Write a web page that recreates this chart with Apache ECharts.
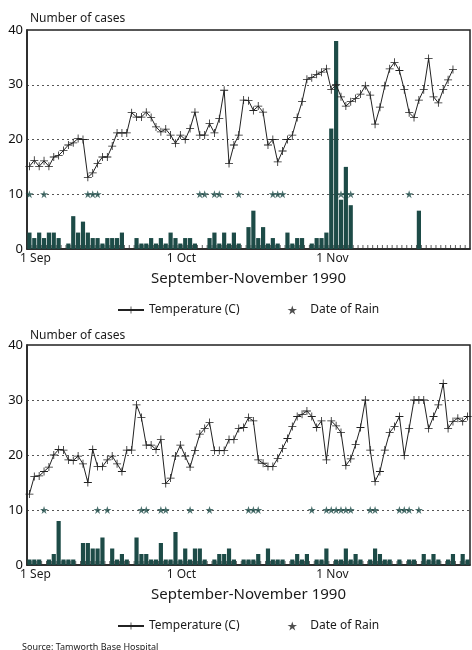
<!DOCTYPE html>
<html>
<head>
<meta charset="utf-8">
<script src="https://cdn.jsdelivr.net/npm/echarts@6/dist/echarts.min.js"></script>
<style>
  html, body { margin: 0; padding: 0; background: #fff; }
  #chart { width: 472px; height: 650px; }
</style>
</head>
<body>
<div id="chart"></div>
<script>
// days on the x axis: 1 Sep .. 30 Nov 1990
const monthNames = ['Sep', 'Oct', 'Nov']
const monthLengths = [30, 31, 30]
const yTicks = [0, 10, 20, 30, 40]

// top panel
const casesTop = [
  3, 2, 3, 2, 3, 3, 2, 0, 1, 6, 3, 5, 3, 2, 2, 1, 2, 2, 2, 3, 0, 0, 2, 1, 1, 2, 1, 2, 1, 3,
  2, 1, 2, 2, 1, 0, 0, 2, 3, 1, 3, 1, 3, 1, 0, 4, 7, 2, 4, 1, 2, 1, 0, 3, 1, 2, 2, 0, 1, 2, 2,
  3, 22, 38, 9, 15, 8, 0, 0, 0, 0, 0, 0, 0, 0, 0, 0, 0, 0, 0, 7, 0, 0, 0, 0, 0, 0, 0, 0, 0, 0
]
const tempTop = [
  15.1, 16.2, 15.1, 16.1, 15.1, 16.8, 17.1, 18, 19, 19.4, 20.2, 20,
  13.1, 13.9, 15.6, 16.8, 16.8, 18.8, 21.2, 21.2, 21.2,
  24.9, 24.1, 24.1, 25, 24, 22.3, 21.4, 21.9, 20.8,
  19.3, 20.8, 20, 22, 25, 20.8, 20.8, 22.9, 21.2, 23.8,
  29, 15.6, 19, 20.8, 27.2, 27.1, 25.3, 26.1, 25, 19,
  20, 15.9, 17.9, 20, 20.8, 24, 26.9, 31, 31.3, 31.9,
  32.3, 32.9, 29.1, 30, 27.8, 26.1, 26.9, 27.5, 28.3, 29.8,
  28.1, 22.8, 25.9, 29.8, 32.9, 34.1, 32.6, 29.1, 24.9, 24,
  27.2, 29.1, 34.8, 27.8, 26.7, 29.1, 30.9, 32.8, null, null, null
]
const rainTop = [0, 3, 12, 13, 14, 35, 36, 38, 39, 43, 50, 51, 52, 64, 65, 66, 78]

// bottom panel
const casesBottom = [
  1, 1, 1, 0, 1, 2, 8, 1, 1, 1, 0, 4, 4, 3, 3, 5, 0, 3, 1, 2, 1, 0, 5, 2, 2, 1, 1, 4, 1, 1,
  6, 1, 3, 1, 3, 3, 1, 0, 1, 2, 2, 3, 1, 0, 1, 1, 1, 2, 0, 3, 1, 1, 1, 0, 1, 2, 1, 2, 0, 1, 1,
  3, 0, 1, 1, 3, 1, 2, 1, 0, 1, 3, 2, 1, 1, 0, 1, 0, 1, 1, 0, 2, 1, 2, 1, 0, 1, 2, 0, 2, 1
]
const tempBottom = [
  12.9, 16.1, 16.2, 17, 17.8, 20, 21, 20.9, 19.1, 19,
  19.8, 18.4, 15, 21, 17.9, 17.9, 19.1, 19.8, 18.4, 17,
  20.9, 20.9, 29.1, 26.8, 21.8, 21.8, 21, 22.8, 14.8, 15.8,
  19.8, 21.8, 19.8, 17.8, 20.8, 23.8, 24.8, 25.9, 20.8, 20.8,
  20.8, 22.8, 22.8, 24.8, 25, 26.8, 26.2, 19.1, 18.5, 17.9,
  17.9, 19.4, 21.2, 23, 25.2, 27, 27.4, 28, 27, 25,
  26.2, 19.1, 26.2, 25.3, 24.1, 18.1, 19.3, 21.9, 25, 30,
  20.9, 15.2, 17, 20.9, 24.1, 25.2, 27, 19.9, 24.8, 30,
  30, 30, 24.8, 27, 29.1, 33, 24.8, 26.1, 26.7, 26.1, 27
]
const rainBottom = [3, 14, 16, 23, 24, 27, 28, 33, 37, 45, 46, 47, 58, 61, 62, 63, 64, 65, 66, 70, 71, 76, 77, 78, 80]
const rainLevel = 10

const days = []
monthNames.forEach(function (m, k) {
  for (let d = 1; d <= monthLengths[k]; d++) days.push(d + ' ' + m)
})

const font = 'Noto Sans'
const ink = '#1a1a1a'
const teal = '#1d4b47'
const plusPath = 'path://M9,0H11V9H20V11H11V20H9V11H0V9H9Z'
const starPath = 'path://M10,0L12.4,7.2L20,7.2L13.8,11.6L16.2,19L10,14.5L3.8,19L6.2,11.6L0,7.2L7.6,7.2Z'

function xAxisFor(gridIndex) {
  return {
    type: 'category',
    gridIndex: gridIndex,
    data: days,
    boundaryGap: true,
    name: 'September-November 1990',
    nameLocation: 'middle',
    nameGap: 22,
    nameTextStyle: { fontFamily: font, fontSize: 15, color: ink },
    axisLine: { show: true, onZero: false, lineStyle: { color: '#222', width: 1.5 } },
    axisTick: { show: false },
    axisLabel: {
      interval: function (i, v) { return v.indexOf('1 ') === 0 },
      margin: 4,
      padding: [0, 0, 0, 12],
      fontFamily: font,
      fontSize: 12,
      color: ink
    },
    splitLine: { show: false }
  }
}

function yAxisFor(gridIndex) {
  return {
    type: 'value',
    gridIndex: gridIndex,
    min: yTicks[0],
    max: yTicks[yTicks.length - 1],
    interval: 10,
    axisLine: { show: true, lineStyle: { color: '#222', width: 1.5 } },
    axisTick: { show: false },
    axisLabel: { margin: 4, fontFamily: font, fontSize: 13, color: '#111' },
    splitLine: { show: true, lineStyle: { type: [2, 3], color: '#555', width: 1 } }
  }
}

function seriesFor(idx, cases, temp, rain) {
  return [
    {
      // little day marks standing on the base line
      name: 'day marks',
      type: 'scatter',
      xAxisIndex: idx,
      yAxisIndex: idx,
      data: days.map(function (d, i) { return [i, 0] }),
      symbol: 'rect',
      symbolSize: [1, 4],
      symbolOffset: [-2.4, -2],
      itemStyle: { color: '#333' },
      silent: true,
      z: 1
    },
    {
      name: 'Cases',
      type: 'bar',
      xAxisIndex: idx,
      yAxisIndex: idx,
      data: cases,
      barCategoryGap: '14%',
      itemStyle: { color: teal },
      z: 3
    },
    {
      name: 'Temperature (C)',
      type: 'line',
      xAxisIndex: idx,
      yAxisIndex: idx,
      data: temp,
      symbol: plusPath,
      symbolSize: 8,
      showAllSymbol: true,
      connectNulls: false,
      lineStyle: { color: '#222', width: 1 },
      itemStyle: { color: '#222' },
      z: 4
    },
    {
      name: 'Date of Rain',
      type: 'scatter',
      xAxisIndex: idx,
      yAxisIndex: idx,
      data: rain.map(function (d) { return [d, rainLevel] }),
      symbol: starPath,
      symbolSize: 8,
      itemStyle: { color: teal },
      z: 5
    }
  ]
}

function legendFor(top) {
  return {
    top: top,
    left: 112,
    itemGap: 48,
    itemWidth: 26,
    itemHeight: 9,
    data: [
      { name: 'Temperature (C)' },
      { name: 'Date of Rain', icon: starPath, itemStyle: { color: '#222' } }
    ],
    textStyle: { fontFamily: font, fontSize: 12, color: ink }
  }
}

const chart = echarts.init(document.getElementById('chart'), null, { renderer: 'canvas' })

chart.setOption({
  animation: false,
  backgroundColor: '#fff',
  title: [
    { text: 'Number of cases', left: 25, top: 8, textStyle: { fontFamily: font, fontSize: 12, fontWeight: 'normal', color: ink } },
    { text: 'Number of cases', left: 25, top: 325, textStyle: { fontFamily: font, fontSize: 12, fontWeight: 'normal', color: ink } },
    { text: 'Source: Tamworth Base Hospital', left: 17, top: 638, textStyle: { fontFamily: font, fontSize: 9, fontWeight: 'normal', color: ink } }
  ],
  legend: [legendFor(299), legendFor(615)],
  grid: [
    { left: 27, right: 2, top: 30, height: 219, show: true, borderColor: '#222', borderWidth: 1.5 },
    { left: 27, right: 2, top: 345, height: 220, show: true, borderColor: '#222', borderWidth: 1.5 }
  ],
  xAxis: [xAxisFor(0), xAxisFor(1)],
  yAxis: [yAxisFor(0), yAxisFor(1)],
  series: seriesFor(0, casesTop, tempTop, rainTop).concat(seriesFor(1, casesBottom, tempBottom, rainBottom))
})
</script>
</body>
</html>
